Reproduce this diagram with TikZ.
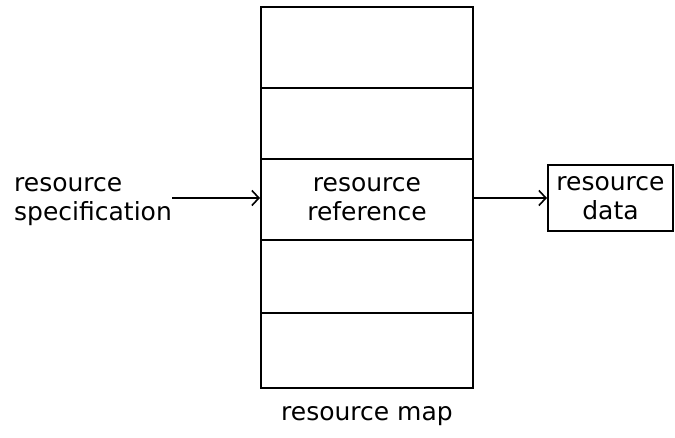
\documentclass[tikz,border=0pt]{standalone}
\usepackage{fontspec}
\setmainfont{DejaVu Sans}
\usetikzlibrary{arrows.meta,positioning}
\tikzset{
  slot/.style={draw, line width=2pt, minimum width=212pt, inner sep=0pt, align=center},
  box/.style={draw, line width=2pt, minimum width=125pt, minimum height=66pt, inner sep=0pt, align=center},
  arr/.style={-{Straight Barb[length=7pt,width=15pt,line width=1.6pt]}, line width=2pt},
  lab/.style={align=left, inner sep=0pt},
}

\begin{document}
\begin{tikzpicture}[x=1pt, y=-1pt, font=\fontsize{25}{29}\selectfont]
    \useasboundingbox (0,0) rectangle (675,438);
    \node[slot, minimum height=81pt] (r1) at (367,47.5) {};
    \node[slot, minimum height=71pt] (r2) at (367,123.5) {};
    \node[slot, minimum height=81pt] (r3) at (367,199.5) {resource\\reference};
    \node[slot, minimum height=73pt] (r4) at (367,276.5) {};
    \node[slot, minimum height=75pt] (r5) at (367,350.5) {};
    \node[lab, anchor=west] (spec) at (14,201.5) {resource\\specification};
    \node[box] (data) at (610.5,198) {resource\\data};
    \node (map) at (367,416) {resource map};
    \draw[arr] (spec.east |- data.west) -- (r3.west |- data.west);
    \draw[arr] (r3.east |- data.west) -- (data.west);
  \end{tikzpicture}
\end{document}
